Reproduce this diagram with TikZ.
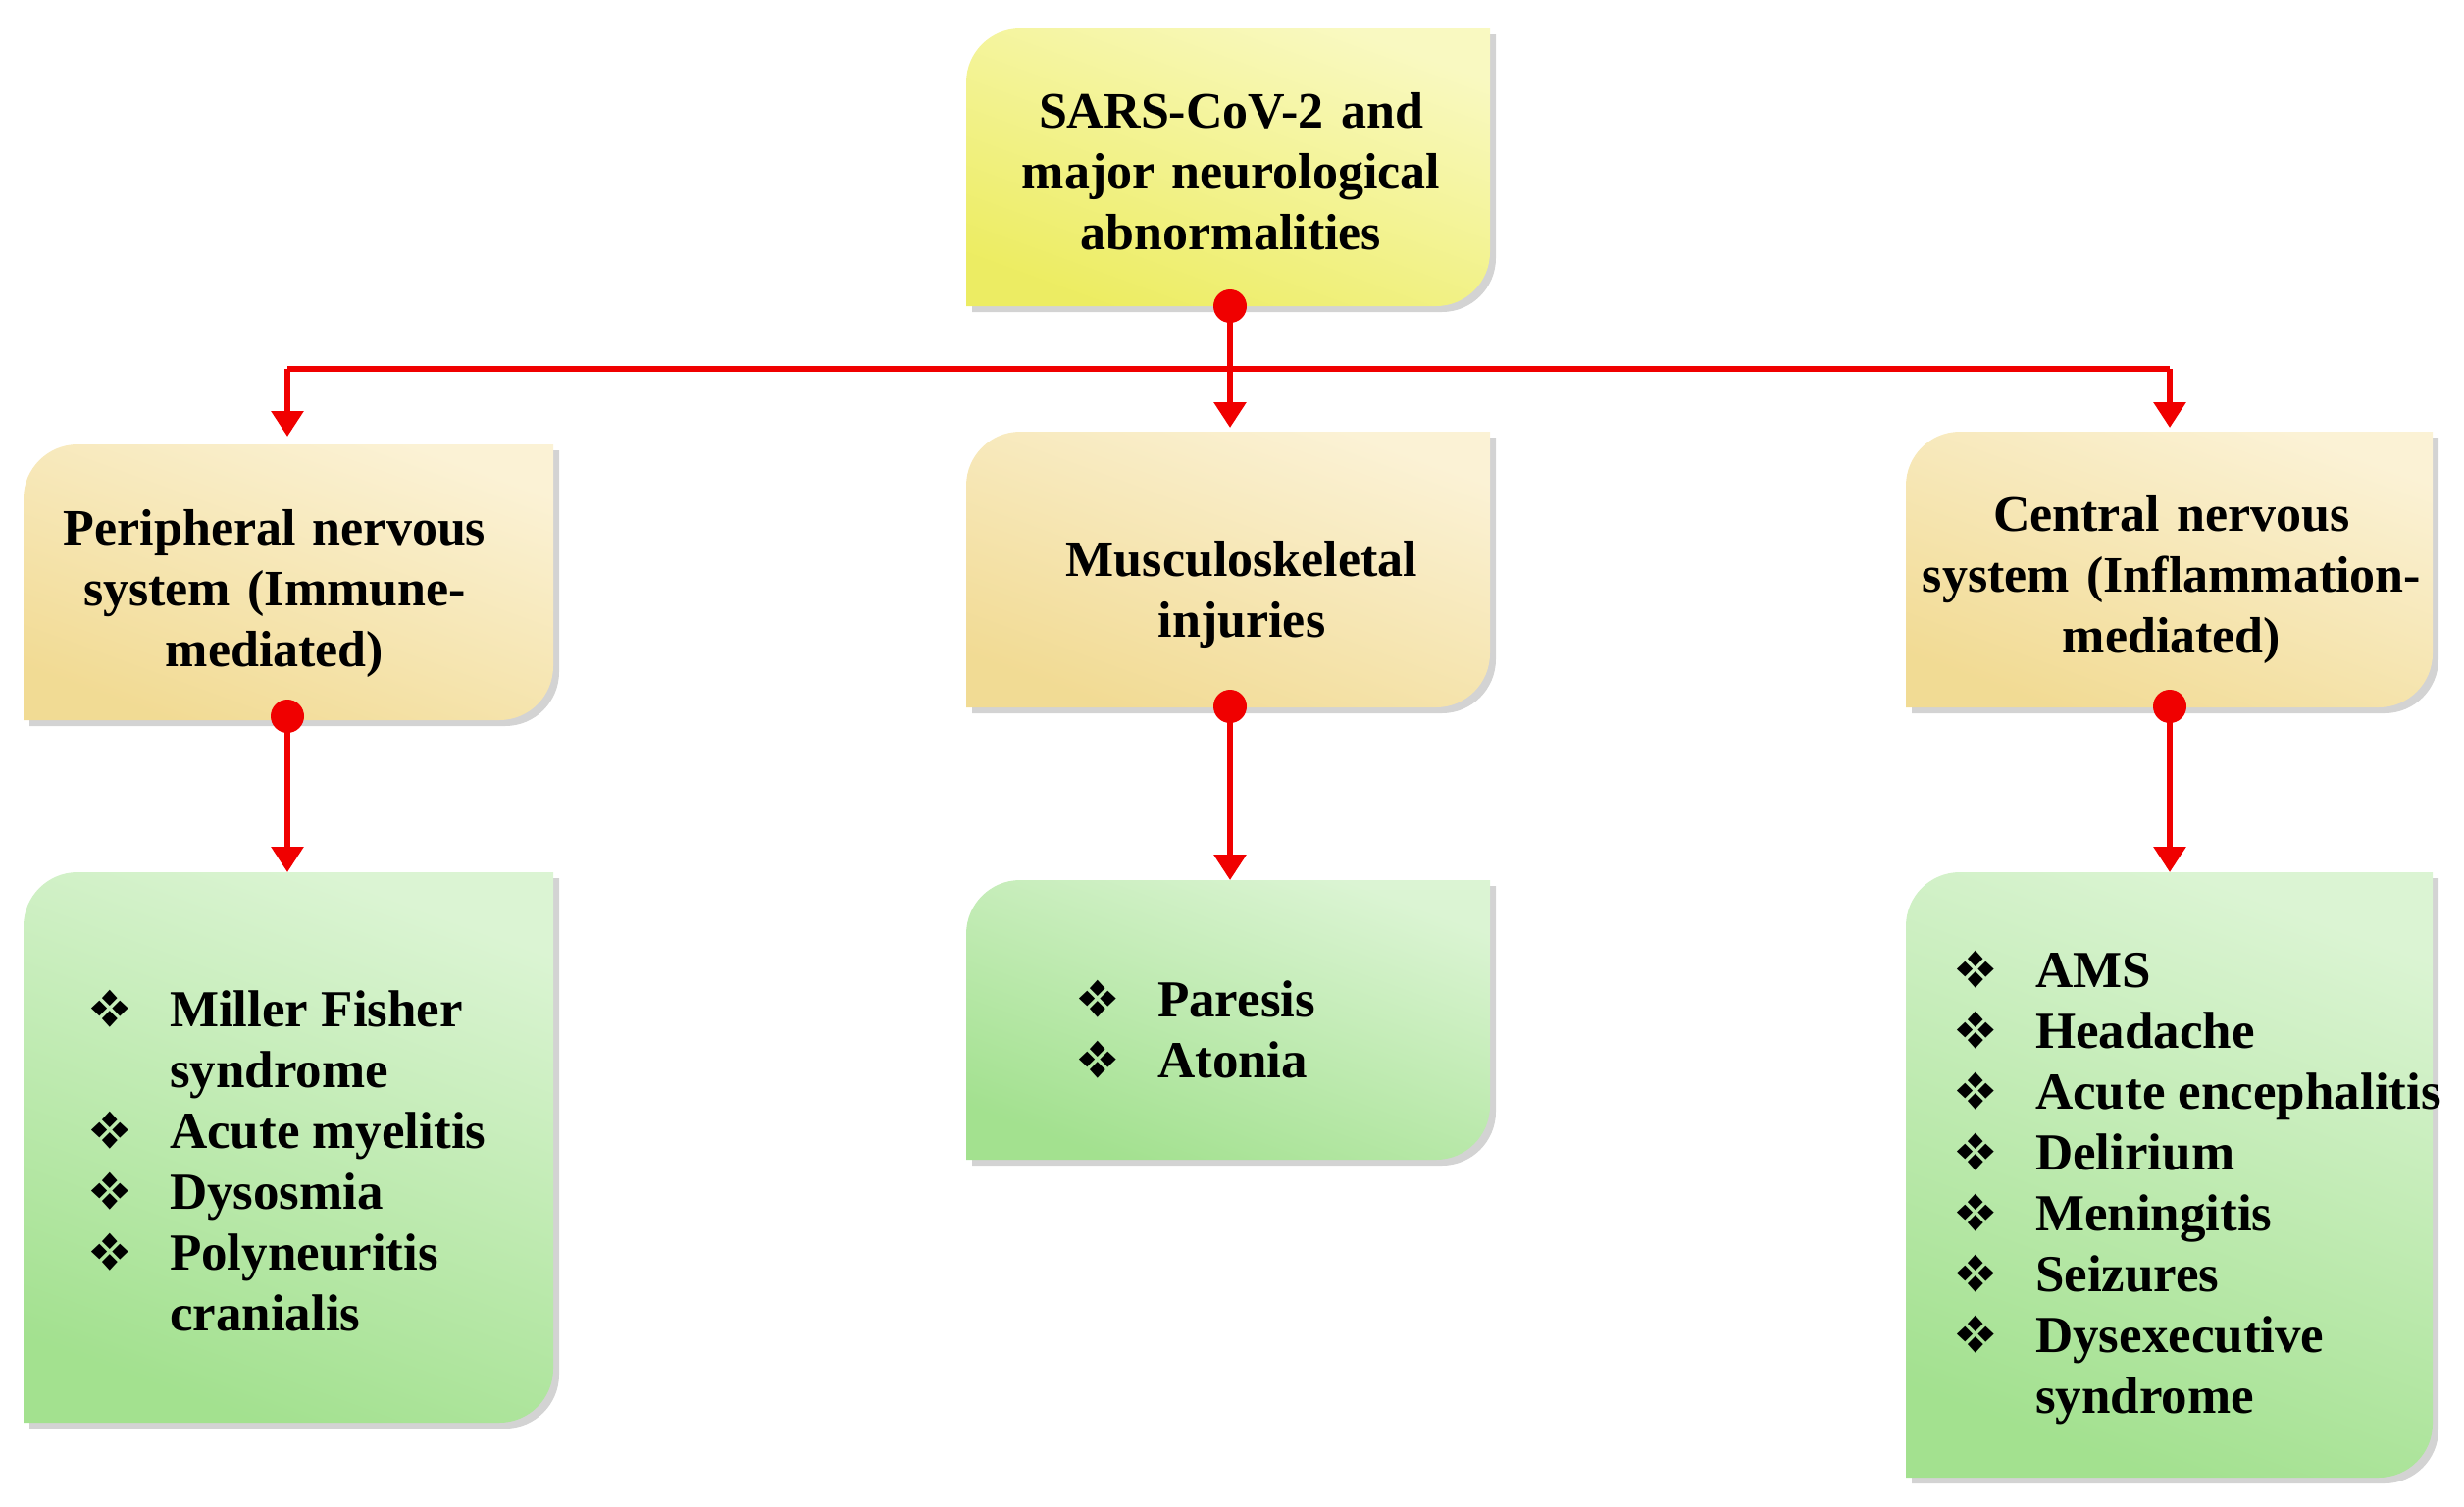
\documentclass[tikz,border=0pt]{standalone}
\usepackage{fontspec}
\setmainfont{Liberation Serif}
\usepackage{pifont}
\usetikzlibrary{shadows,arrows.meta}
\definecolor{arr}{RGB}{240,0,0}
\newcommand{\bx}[5]{%
 \path[drop shadow={shadow xshift=6pt,shadow yshift=-6pt,opacity=.35},right color=#5!85!black!10!#5,left color=white!60!#5,shading angle=-20]
  (#1,#4) [rounded corners=55] -- (#1,#2) [sharp corners] -- (#3,#2) [rounded corners=55] -- (#3,#4) [sharp corners] -- cycle;}
\tikzset{
 lbl/.style={font=\fontsize{52}{62}\selectfont\bfseries,align=center,text width=#1},
 lst/.style={font=\fontsize{53}{62}\selectfont\bfseries,align=left,anchor=north west},
 con/.style={draw=arr,line width=6pt,-{Triangle[length=26pt,width=32pt]}},
 dot/.style={circle,fill=arr,inner sep=0,minimum size=34pt}
}
\newcommand{\bul}{\ding{118}}
\begin{document}
\begin{tikzpicture}[x=1pt,y=-1pt]
\useasboundingbox (0,0) rectangle (2512,1535);
\definecolor{yel}{RGB}{240,240,100}
\definecolor{tan}{RGB}{245,222,150}
\definecolor{grn}{RGB}{165,228,145}
\bx{985}{29}{1519}{312}{yel}
\bx{24}{453}{564}{734}{tan}
\bx{985}{440}{1519}{721}{tan}
\bx{1943}{440}{2480}{721}{tan}
\bx{24}{889}{564}{1450}{grn}
\bx{985}{897}{1519}{1182}{grn}
\bx{1943}{889}{2480}{1506}{grn}
\node[lbl=560pt] (top) at (1255,175) {SARS-CoV-2 and\\major neurological\\abnormalities};
\node[lbl=560pt] (pns) at (280,605) {Peripheral nervous\\system (Immune-\\mediated)};
\node[lbl=560pt] (msk) at (1266,606) {Musculoskeletal\\injuries};
\node[lbl=560pt] (cns) at (2214,591) {Central nervous\\system (Inflammation-\\mediated)};
\node[lst] (l1) at (88,1000) {\begin{tabular}{@{}l@{\hspace{40pt}}l}\bul&Miller Fisher\\&syndrome\\\bul&Acute myelitis\\\bul&Dysosmia\\\bul&Polyneuritis\\&cranialis\end{tabular}};
\node[lst] (l2) at (1095,990) {\begin{tabular}{@{}l@{\hspace{40pt}}l}\bul&Paresis\\\bul&Atonia\end{tabular}};
\node[lst] (l3) at (1990,960) {\begin{tabular}{@{}l@{\hspace{40pt}}l}\bul&AMS\\\bul&Headache\\\bul&Acute encephalitis\\\bul&Delirium\\\bul&Meningitis\\\bul&Seizures\\\bul&Dysexecutive\\&syndrome\end{tabular}};
\coordinate (d0) at (1254,312);
\coordinate (hl) at (293,376);
\coordinate (hr) at (2212,376);
\coordinate (pt) at (293,445);
\coordinate (mt) at (1254,436);
\coordinate (ct) at (2212,436);
\coordinate (d1) at (293,730);
\coordinate (d2) at (1254,720);
\coordinate (d3) at (2212,720);
\coordinate (b1) at (293,889);
\coordinate (b2) at (1254,897);
\coordinate (b3) at (2212,889);
\draw[con,-] (hl) -- (hr);
\draw[con] (hl) -- (pt);
\draw[con] (hr) -- (ct);
\draw[con] (d0) -- (mt);
\draw[con] (d1) -- (b1);
\draw[con] (d2) -- (b2);
\draw[con] (d3) -- (b3);
\node[dot] at (d0) {};
\node[dot] at (d1) {};
\node[dot] at (d2) {};
\node[dot] at (d3) {};
\end{tikzpicture}
\end{document}
